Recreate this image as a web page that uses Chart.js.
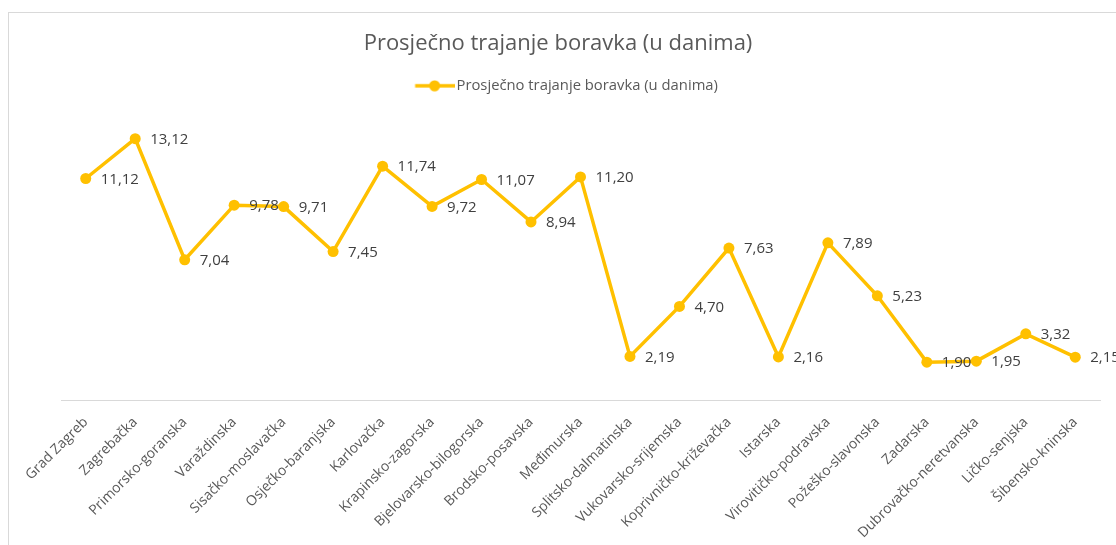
<!DOCTYPE html>
<html>
<head>
<meta charset="utf-8">
<title>Prosječno trajanje boravka</title>
<script src="https://cdn.jsdelivr.net/npm/chart.js@4/dist/chart.umd.min.js"></script>
<style>
  html, body { margin: 0; padding: 0; background: #fff; overflow: hidden; }
  .frame {
    position: absolute; left: 8px; top: 12px;
    width: 1200px; height: 600px;
    border: 1px solid #d9d9d9;
  }
  .chart-box { position: absolute; left: 0; top: 0; width: 1116px; height: 545px; }
</style>
</head>
<body>
<div class="frame"></div>
<div class="chart-box"><canvas id="stayChart"></canvas></div>
<script>
// Data
const regions = [
  'Grad Zagreb', 'Zagrebačka', 'Primorsko-goranska', 'Varaždinska', 'Sisačko-moslavačka',
  'Osječko-baranjska', 'Karlovačka', 'Krapinsko-zagorska', 'Bjelovarsko-bilogorska',
  'Brodsko-posavska', 'Međimurska', 'Splitsko-dalmatinska', 'Vukovarsko-srijemska',
  'Koprivničko-križevačka', 'Istarska', 'Virovitičko-podravska', 'Požeško-slavonska',
  'Zadarska', 'Dubrovačko-neretvanska', 'Ličko-senjska', 'Šibensko-kninska'
];
const avgStay = [
  11.12, 13.12, 7.04, 9.78, 9.71, 7.45, 11.74, 9.72, 11.07, 8.94, 11.20,
  2.19, 4.70, 7.63, 2.16, 7.89, 5.23, 1.90, 1.95, 3.32, 2.15
];
const seriesName = 'Prosječno trajanje boravka (u danima)';

const gold = '#FFC000';

Chart.defaults.font.family = '"Open Sans", sans-serif';
Chart.defaults.color = '#595959';

// legend marker: line with a dot in the middle
// (canvas is wider on the left so the legend sits a bit right of centre, like the original)
const legendMark = document.createElement('canvas');
legendMark.width = 62;
legendMark.height = 12;
(function () {
  const c = legendMark.getContext('2d');
  c.strokeStyle = gold;
  c.lineWidth = 3.5;
  c.beginPath();
  c.moveTo(22.5, 6);
  c.lineTo(62, 6);
  c.stroke();
  c.fillStyle = gold;
  c.beginPath();
  c.arc(42, 6, 5.5, 0, Math.PI * 2);
  c.fill();
})();

// value labels to the right of each point
const valueLabels = {
  id: 'valueLabels',
  afterDatasetsDraw(chart) {
    const ctx = chart.ctx;
    const meta = chart.getDatasetMeta(0);
    ctx.save();
    ctx.font = '15px "Open Sans", sans-serif';
    ctx.fillStyle = '#404040';
    ctx.textAlign = 'left';
    ctx.textBaseline = 'middle';
    meta.data.forEach((pt, i) => {
      const txt = avgStay[i].toFixed(2).replace('.', ',');
      ctx.fillText(txt, pt.x + 15, pt.y + 1);
    });
    ctx.restore();
  }
};

new Chart(document.getElementById('stayChart'), {
  type: 'line',
  data: {
    labels: regions,
    datasets: [{
      label: seriesName,
      data: avgStay,
      borderColor: gold,
      backgroundColor: gold,
      borderWidth: 3.5,
      tension: 0,
      pointRadius: 5.5,
      pointHoverRadius: 5.5,
      pointBackgroundColor: gold,
      pointBorderWidth: 0
    }]
  },
  options: {
    responsive: true,
    maintainAspectRatio: false,
    animation: false,
    layout: { padding: { left: 16, right: 16, top: 0, bottom: 0 } },
    plugins: {
      title: {
        display: true,
        text: 'Prosječno trajanje boravka (u danima)',
        color: '#595959',
        font: { size: 22, weight: 'normal' },
        padding: { top: 31, bottom: 11 }
      },
      legend: {
        display: true,
        labels: {
          usePointStyle: true,
          pointStyle: legendMark,
          pointStyleWidth: 51,
          color: '#595959',
          font: { size: 14.8 },
          padding: 10
        }
      },
      tooltip: { enabled: false }
    },
    scales: {
      x: {
        offset: true,
        grid: { display: false },
        border: { display: true, color: '#d9d9d9', width: 1 },
        ticks: {
          autoSkip: false,
          maxRotation: 45,
          minRotation: 45,
          padding: 6,
          color: '#595959',
          font: { size: 14 }
        },
        afterFit(scale) { scale.height = 145; }
      },
      y: {
        min: 0,
        max: 14.9,
        grid: { display: false },
        border: { display: false },
        ticks: { display: false },
        afterFit(scale) { scale.width = 45; }
      }
    }
  },
  plugins: [valueLabels]
});
</script>
</body>
</html>
